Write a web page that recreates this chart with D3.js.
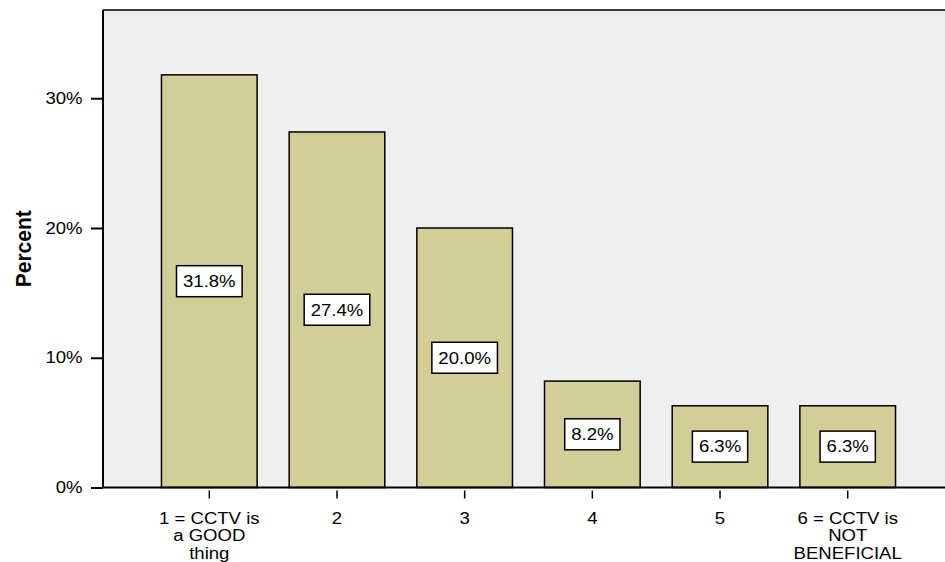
<!DOCTYPE html>
<html>
<head>
<meta charset="utf-8">
<script src="https://cdn.jsdelivr.net/npm/d3@7"></script>
<style>
  html, body { margin: 0; padding: 0; background: #fff; overflow: hidden; }
  svg { display: block; font-family: "Liberation Sans", Arial, Helvetica, sans-serif; }
</style>
</head>
<body>
<svg id="chart" width="945" height="562"></svg>
<script>
// Response categories (each entry holds the wrapped lines of its axis label)
const categories = ["1", "2", "3", "4", "5", "6"];
const categoryLabels = [
  ["1 = CCTV is", "a GOOD", "thing"],
  ["2"],
  ["3"],
  ["4"],
  ["5"],
  ["6 = CCTV is", "NOT", "BENEFICIAL"]
];
// Share of respondents per category, in percent
const percents = [31.8, 27.4, 20.0, 8.2, 6.3, 6.3];
// Y-axis tick values (percent)
const yTicks = [0, 10, 20, 30];
const yMax = 36.8;

const FONT = "Liberation Sans, Arial, sans-serif";
const FS = 16;      // body text size
const SX = 1.16;    // horizontal widening of the text glyphs

const svg = d3.select("#chart");
const plot = { left: 103, top: 10, right: 954, bottom: 487.5 };

const x = d3.scaleBand()
  .domain(categories)
  .range([plot.left, plot.right])
  .paddingInner(0.251)
  .paddingOuter(0.458);

const y = d3.scaleLinear()
  .domain([0, yMax])
  .range([plot.bottom, plot.top]);

// Plot background
svg.append("rect")
  .attr("x", plot.left)
  .attr("y", plot.top)
  .attr("width", plot.right - plot.left)
  .attr("height", plot.bottom - plot.top)
  .attr("fill", "#efefef");

// Top frame line
svg.append("line")
  .attr("x1", plot.left).attr("x2", plot.right)
  .attr("y1", plot.top).attr("y2", plot.top)
  .attr("stroke", "#000").attr("stroke-width", 1.5);

// Bars
svg.append("g")
  .selectAll("rect")
  .data(percents)
  .join("rect")
  .attr("x", (d, i) => x(categories[i]))
  .attr("y", d => y(d))
  .attr("width", x.bandwidth())
  .attr("height", d => y(0) - y(d))
  .attr("fill", "#d3ce97")
  .attr("stroke", "#000")
  .attr("stroke-width", 1.5);

// Y axis
const yAxis = svg.append("g")
  .attr("transform", `translate(${plot.left},0)`)
  .call(d3.axisLeft(y).tickValues(yTicks).tickSize(12).tickPadding(8)
    .tickFormat(d => d + "%"));
yAxis.select(".domain")
  .attr("d", `M0,${plot.top}V${plot.bottom}`)
  .attr("stroke-width", 2);
yAxis.selectAll(".tick line").attr("stroke-width", 2);
yAxis.selectAll(".tick text")
  .attr("x", 0)
  .attr("transform", `translate(-20.5,0) scale(${SX},1)`)
  .attr("font-size", FS)
  .attr("font-family", FONT)
  .attr("fill", "#000");

// X axis
const xAxis = svg.append("g")
  .attr("transform", `translate(0,${plot.bottom})`)
  .call(d3.axisBottom(x).tickSize(0).tickFormat(""));
xAxis.select(".domain")
  .attr("d", `M${plot.left},0H${plot.right}`)
  .attr("stroke-width", 2);
xAxis.selectAll(".tick line")
  .attr("y1", 3).attr("y2", 11)
  .attr("stroke", "#000").attr("stroke-width", 1.5);

// Wrapped category labels
xAxis.selectAll(".tick").each(function (d, i) {
  const t = d3.select(this).append("text")
    .attr("fill", "#000")
    .attr("font-size", FS)
    .attr("font-family", FONT)
    .attr("text-anchor", "middle")
    .attr("transform", `translate(0,36) scale(${SX},1)`);
  categoryLabels[i].forEach((line, k) => {
    t.append("tspan").attr("x", 0).attr("dy", k === 0 ? 0 : 18).text(line);
  });
});

// Value labels at each bar's midpoint
const labels = svg.append("g")
  .selectAll("g")
  .data(percents)
  .join("g")
  .attr("transform", (d, i) =>
    `translate(${x(categories[i]) + x.bandwidth() / 2},${(y(d) + y(0)) / 2})`);

labels.each(function (d) {
  const g = d3.select(this);
  const txt = g.append("text")
    .attr("text-anchor", "middle")
    .attr("dy", "0.36em")
    .attr("font-size", FS)
    .attr("font-family", FONT)
    .attr("fill", "#000")
    .attr("transform", `scale(${SX},1)`)
    .text(d.toFixed(1) + "%");
  const w = txt.node().getComputedTextLength() * SX + 13;
  const h = 31;
  g.insert("rect", "text")
    .attr("x", -w / 2).attr("y", -h / 2)
    .attr("width", w).attr("height", h)
    .attr("fill", "#fff")
    .attr("stroke", "#000")
    .attr("stroke-width", 1.5);
});

// Y axis title
svg.append("text")
  .attr("transform", `translate(31,${(plot.top + plot.bottom) / 2}) rotate(-90) scale(1,1.08)`)
  .attr("text-anchor", "middle")
  .attr("font-size", 21)
  .attr("font-family", FONT)
  .attr("font-weight", "bold")
  .attr("fill", "#000")
  .text("Percent");
</script>
</body>
</html>
